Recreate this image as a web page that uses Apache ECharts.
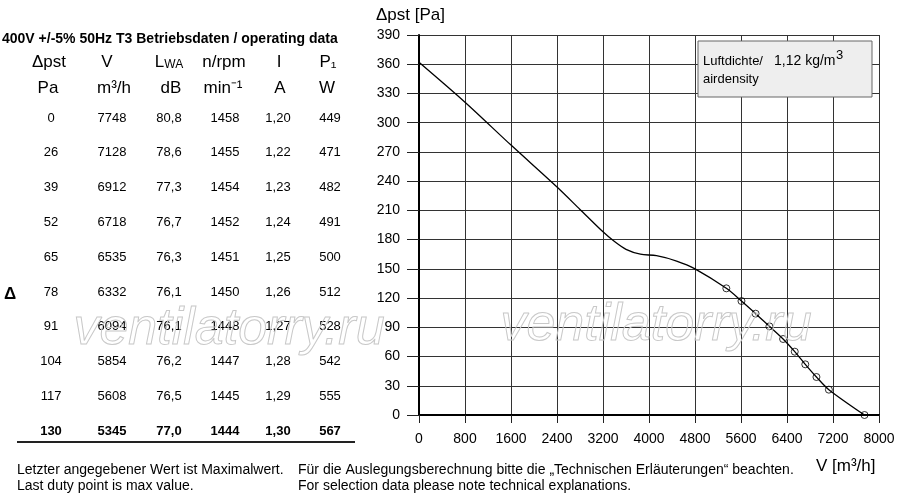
<!DOCTYPE html>
<html><head><meta charset="utf-8">
<script src="https://cdn.jsdelivr.net/npm/echarts@6/dist/echarts.min.js"></script>
<style>html,body{margin:0;padding:0;background:#fff}#c{width:900px;height:500px}</style>
</head><body><div id="c"></div>
<script>
// ---- operating data table ----
const tablePressure = [0, 26, 39, 52, 65, 78, 91, 104, 117, 130];
const tableFlow     = [7748, 7128, 6912, 6718, 6535, 6332, 6094, 5854, 5608, 5345];
const tableLwa      = ['80,8', '78,6', '77,3', '76,7', '76,3', '76,1', '76,1', '76,2', '76,5', '77,0'];
const tableRpm      = [1458, 1455, 1454, 1452, 1451, 1450, 1448, 1447, 1445, 1444];
const tableCurrent  = ['1,20', '1,22', '1,23', '1,24', '1,25', '1,26', '1,27', '1,28', '1,29', '1,30'];
const tablePower    = [449, 471, 482, 491, 500, 512, 528, 542, 555, 567];
const headerTop     = ['Δpst', 'V', 'L{s|WA}', 'n/rpm', 'I', 'P₁'];
const headerUnit    = ['Pa', 'm³/h', 'dB', 'min⁻¹', 'A', 'W'];

// ---- fan curve (upper part) ----
const curveFlow     = [0, 800, 1600, 2400, 2800, 3200, 3400, 3600, 3850, 4130, 4480, 4800];
const curvePressure = [362, 321, 277, 234, 211, 188, 178, 170, 165, 163.5, 158, 150];

// ---- axes ----
const xMin = 0, xMax = 8000, xStep = 800;
const yMin = 0, yMax = 390, yStep = 30;

const FONT = 'Liberation Sans, Arial, Helvetica, sans-serif';

const opPoints = tableFlow.map((v, i) => [v, tablePressure[i]]);
const curveData = curveFlow.map((v, i) => [v, curvePressure[i]])
  .concat(opPoints.slice().sort((a, b) => a[0] - b[0]));

const graphics = [];
function txt(x, y, text, opts) {
  opts = opts || {};
  graphics.push({
    type: 'text', x: x, y: y, z: opts.z || 10,
    style: Object.assign({
      text: text, fill: '#000', fontFamily: FONT,
      fontSize: opts.fontSize || 13, fontWeight: opts.fontWeight || 'normal',
      align: opts.align || 'center', verticalAlign: 'middle'
    }, opts.extra || {})
  });
}

// title
txt(2, 39, '400V +/-5% 50Hz T3 Betriebsdaten / operating data', {align: 'left', fontSize: 14, fontWeight: 'bold'});
// headers
const colX = [51, 112, 169, 225, 278, 330];
const hdrX = [49, 107, 169, 224, 279, 328];
const unitX = [48, 114, 171, 223, 280, 327];
headerTop.forEach((h, i) => {
  txt(hdrX[i], 62, h, {fontSize: 17, extra: {rich: {s: {fontSize: 12, fontFamily: FONT, verticalAlign: 'bottom', padding: [3, 0, 0, 0]}}}});
});
headerUnit.forEach((h, i) => txt(unitX[i], 88, h, {fontSize: 17}));
// rows
const rowY0 = 118, rowStep = 34.8;
tablePressure.forEach((p, r) => {
  const y = rowY0 + r * rowStep;
  const bold = r === tablePressure.length - 1 ? 'bold' : 'normal';
  const vals = [p, tableFlow[r], tableLwa[r], tableRpm[r], tableCurrent[r], tablePower[r]];
  vals.forEach((v, c) => txt(colX[c], y, String(v), {fontSize: 13, fontWeight: bold}));
});
// delta mark
txt(10, 294, 'Δ', {fontSize: 17, fontWeight: 'bold'});
// rule under table
graphics.push({type: 'line', shape: {x1: 17, y1: 442, x2: 355, y2: 442}, style: {stroke: '#222', lineWidth: 2}, z: 10});
// footer
txt(17, 470, 'Letzter angegebener Wert ist Maximalwert.', {align: 'left', fontSize: 14});
txt(298, 470, 'Für die Auslegungsberechnung bitte die „Technischen Erläuterungen“ beachten.', {align: 'left', fontSize: 14});
txt(17, 486, 'Last duty point is max value.', {align: 'left', fontSize: 14});
txt(298, 486, 'For selection data please note technical explanations.', {align: 'left', fontSize: 14});
// axis names
txt(376, 15, 'Δpst [Pa]', {align: 'left', fontSize: 17});
txt(816, 466, 'V [m³/h]', {align: 'left', fontSize: 17});
// air density box
graphics.push({type: 'rect', shape: {x: 698, y: 41, width: 174, height: 56}, style: {fill: '#eeeeee', stroke: '#666', lineWidth: 1}, z: 20});
txt(703, 61, 'Luftdichte/', {align: 'left', fontSize: 13, z: 21});
txt(774, 61, '1,12 kg/m', {align: 'left', fontSize: 14, z: 21});
txt(836, 55, '3', {align: 'left', fontSize: 13, z: 21});
txt(703, 79, 'airdensity', {align: 'left', fontSize: 13, z: 21});
// watermarks
[[229, 330], [656, 326]].forEach(p => {
  graphics.push({
    type: 'text', x: p[0], y: p[1], z: 30,
    style: {text: 'ventilatorry.ru', fontFamily: FONT, fontSize: 52, fontStyle: 'italic',
      fill: 'rgba(0,0,0,0)', stroke: '#c8c8c8', lineWidth: 1, align: 'center', verticalAlign: 'middle'}
  });
});

const chart = echarts.init(document.getElementById('c'), null, {renderer: 'canvas'});
chart.setOption({
  animation: false,
  backgroundColor: '#fff',
  grid: {left: 419, right: 21, top: 35, bottom: 85},
  xAxis: {
    type: 'value', min: xMin, max: xMax, interval: xStep,
    axisLine: {show: true, onZero: false, lineStyle: {color: '#000', width: 2}},
    axisTick: {show: true, length: 8, lineStyle: {color: '#222'}},
    axisLabel: {color: '#000', fontSize: 14, fontFamily: FONT, margin: 17, formatter: v => String(v)},
    splitLine: {show: true, lineStyle: {color: '#333', width: 1}}
  },
  yAxis: {
    type: 'value', min: yMin, max: yMax, interval: yStep,
    axisLine: {show: true, onZero: false, lineStyle: {color: '#000', width: 2}},
    axisTick: {show: true, length: 12, lineStyle: {color: '#222'}},
    axisLabel: {color: '#000', fontSize: 14, fontFamily: FONT, margin: 19, formatter: v => String(v)},
    splitLine: {show: true, lineStyle: {color: '#333', width: 1}}
  },
  series: [
    {
      type: 'line', data: curveData, smooth: 0.3, showSymbol: false,
      lineStyle: {color: '#000', width: 1.3}, z: 3
    },
    {
      type: 'scatter', data: opPoints, symbol: 'circle', symbolSize: 7,
      itemStyle: {color: 'rgba(0,0,0,0)', borderColor: '#000', borderWidth: 1}, z: 4
    }
  ],
  graphic: graphics
});
</script>
</body></html>
